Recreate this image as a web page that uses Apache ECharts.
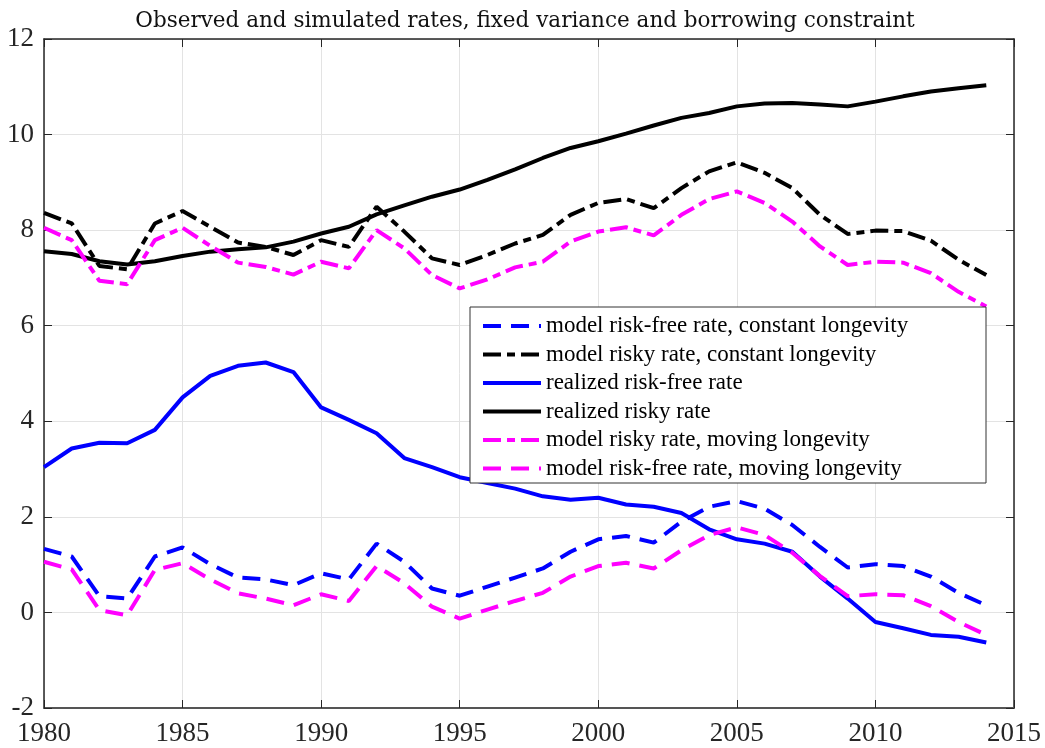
<!DOCTYPE html>
<html><head><meta charset="utf-8">
<script src="https://cdn.jsdelivr.net/npm/echarts@6/dist/echarts.min.js"></script>
<style>html,body{margin:0;padding:0;background:#fff}#c{width:1045px;height:748px}</style>
</head><body><div id="c"></div>
<script>
const years = [1980,1981,1982,1983,1984,1985,1986,1987,1988,1989,1990,1991,1992,1993,1994,1995,1996,1997,1998,1999,2000,2001,2002,2003,2004,2005,2006,2007,2008,2009,2010,2011,2012,2013,2014];
const modelRfConst = [1.33,1.17,0.34,0.29,1.17,1.36,1.01,0.73,0.69,0.57,0.82,0.69,1.44,1.06,0.50,0.35,0.54,0.73,0.92,1.27,1.53,1.60,1.46,1.90,2.21,2.33,2.17,1.83,1.37,0.94,1.01,0.97,0.75,0.41,0.15];
const modelRiskyConst = [8.36,8.14,7.25,7.18,8.14,8.40,8.07,7.74,7.65,7.48,7.79,7.65,8.49,7.97,7.41,7.27,7.48,7.72,7.90,8.32,8.57,8.65,8.46,8.88,9.23,9.42,9.20,8.88,8.32,7.92,7.99,7.98,7.78,7.38,7.06];
const realizedRf = [3.04,3.43,3.55,3.54,3.82,4.50,4.95,5.16,5.23,5.03,4.29,4.03,3.75,3.23,3.04,2.83,2.71,2.59,2.43,2.36,2.40,2.26,2.21,2.08,1.74,1.53,1.44,1.27,0.75,0.29,-0.20,-0.33,-0.47,-0.51,-0.63];
const realizedRisky = [7.56,7.50,7.35,7.28,7.35,7.46,7.55,7.60,7.64,7.76,7.93,8.07,8.33,8.52,8.70,8.85,9.05,9.27,9.51,9.72,9.86,10.02,10.19,10.35,10.45,10.59,10.65,10.66,10.63,10.59,10.69,10.80,10.90,10.97,11.03];
const modelRiskyMoving = [8.05,7.79,6.94,6.87,7.79,8.05,7.67,7.32,7.23,7.07,7.34,7.20,8.00,7.62,7.06,6.78,6.97,7.22,7.34,7.76,7.97,8.06,7.89,8.32,8.65,8.81,8.57,8.18,7.66,7.27,7.34,7.32,7.10,6.71,6.40];
const modelRfMoving = [1.06,0.90,0.05,-0.06,0.89,1.03,0.69,0.40,0.29,0.15,0.38,0.24,0.97,0.61,0.12,-0.13,0.06,0.24,0.41,0.75,0.97,1.04,0.92,1.30,1.62,1.78,1.62,1.25,0.76,0.34,0.38,0.36,0.13,-0.20,-0.47];
const names = ['model risk-free rate, constant longevity','model risky rate, constant longevity','realized risk-free rate','realized risky rate','model risky rate, moving longevity','model risk-free rate, moving longevity'];
const title = 'Observed and simulated rates, fixed variance and borrowing constraint';

const pair = arr => years.map((y,i)=>[y,arr[i]]);
const dashed = [18,10];
const dashdot = [18,6,8,6];
function mk(name, arr, color, type){
  return {name, type:'line', data:pair(arr), showSymbol:false, symbol:'none', animation:false,
    lineStyle:{color, width:4, type}, itemStyle:{color}, z:3};
}
const font = '"Liberation Serif", "DejaVu Serif", serif';
const axCol = '#262626';
const chart = echarts.init(document.getElementById('c'), null, {renderer:'canvas'});
chart.setOption({
  backgroundColor:'#fff',
  animation:false,
  title:{text:title, left:520, top:5, textAlign:'center', textStyle:{fontFamily:'"DejaVu Serif", serif', fontSize:21.5, fontWeight:'normal', color:'#111'}},
  grid:{left:44, right:31, top:39, bottom:40, containLabel:false},
  graphic:[{type:'rect', shape:{x:470, y:307, width:516, height:176}, style:{fill:'#fff', stroke:'#333', lineWidth:1}, z:50}],
  legend:{
    data:names, orient:'vertical', left:470, top:307, z:60,
    padding:[7,10,3,11], itemGap:4.5, itemWidth:58, itemHeight:14,
    itemStyle:{opacity:0},
    lineStyle:{width:4},
    textStyle:{fontFamily:font, fontSize:23, lineHeight:24, color:'#000'}
  },
  xAxis:[
    {type:'value', min:1980, max:2015, interval:5, position:'bottom',
     axisLine:{show:true, onZero:false, lineStyle:{color:'#555', width:2}},
     axisTick:{show:true, inside:true, length:8, lineStyle:{color:axCol}},
     axisLabel:{fontFamily:font, fontSize:27, color:axCol, margin:12, formatter:v=>String(v)},
     splitLine:{show:true, lineStyle:{color:'#e3e3e3', width:1}}},
    {type:'value', min:1980, max:2015, interval:5, position:'top',
     axisLine:{show:true, onZero:false, lineStyle:{color:axCol, width:1.5}},
     axisTick:{show:true, inside:true, length:8, lineStyle:{color:axCol}},
     axisLabel:{show:false}, splitLine:{show:false}}
  ],
  yAxis:[
    {type:'value', min:-2, max:12, interval:2, position:'left',
     axisLine:{show:true, onZero:false, lineStyle:{color:axCol, width:1.5}},
     axisTick:{show:true, inside:true, length:8, lineStyle:{color:axCol}},
     axisLabel:{fontFamily:font, fontSize:27, color:axCol, margin:10},
     splitLine:{show:true, lineStyle:{color:'#e3e3e3', width:1}}},
    {type:'value', min:-2, max:12, interval:2, position:'right',
     axisLine:{show:true, onZero:false, lineStyle:{color:axCol, width:1.5}},
     axisTick:{show:true, inside:true, length:8, lineStyle:{color:axCol}},
     axisLabel:{show:false}, splitLine:{show:false}}
  ],
  series:[
    mk(names[0], modelRfConst, '#0000ff', dashed),
    mk(names[1], modelRiskyConst, '#000000', dashdot),
    mk(names[2], realizedRf, '#0000ff', 'solid'),
    mk(names[3], realizedRisky, '#000000', 'solid'),
    mk(names[4], modelRiskyMoving, '#ff00ff', dashdot),
    mk(names[5], modelRfMoving, '#ff00ff', dashed)
  ]
});
</script></body></html>
